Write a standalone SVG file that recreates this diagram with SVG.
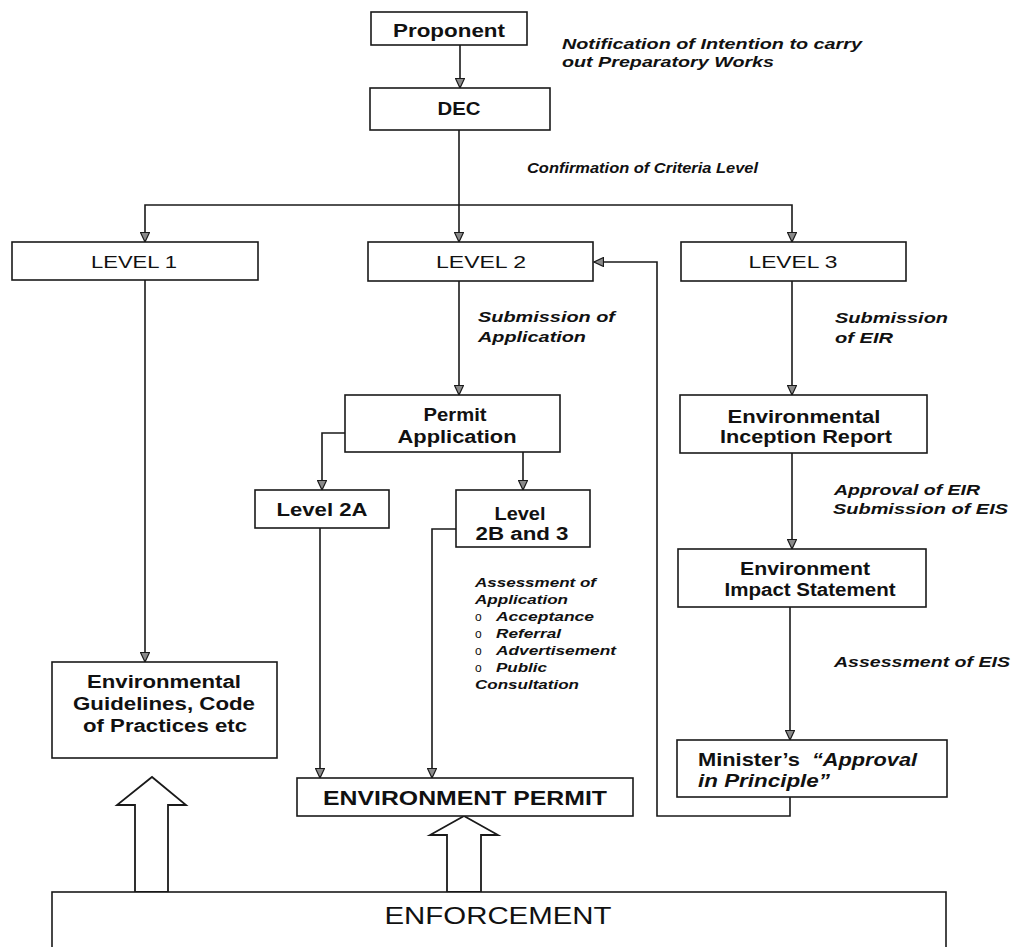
<svg xmlns="http://www.w3.org/2000/svg" width="1015" height="947" viewBox="0 0 1015 947">
<style>
.bg{fill:#ffffff}
.box{fill:#ffffff;stroke:#1a1a1a;stroke-width:1.6}
.con{fill:none;stroke:#1a1a1a;stroke-width:1.6}
.big{fill:#ffffff;stroke:#1a1a1a;stroke-width:1.8;stroke-linejoin:miter}
text{font-family:"Liberation Sans",Arial,sans-serif;fill:#111}
.t{font-size:18px;font-weight:bold;text-anchor:middle}
.r{font-size:17px;font-weight:normal;text-anchor:middle}
.lbl{font-size:15px;font-weight:bold;font-style:italic}
.sm{font-size:13px;font-weight:bold;font-style:italic}
.bul{font-size:12px;font-weight:normal}
</style>
<defs>
<marker id="ah" markerUnits="userSpaceOnUse" markerWidth="11" markerHeight="10" refX="10" refY="5" orient="auto">
<path d="M0.5,0.5 L10,5 L0.5,9.5 z" fill="#8a8a8a" stroke="#1a1a1a" stroke-width="1.2"/>
</marker>
</defs>
<rect class="bg" x="0" y="0" width="1015" height="947"/>

<g id="connectors">
<path class="con" d="M460,45 V88" marker-end="url(#ah)"/>
<path class="con" d="M459,130 V242" marker-end="url(#ah)"/>
<path class="con" d="M459,205 H145 V242" marker-end="url(#ah)"/>
<path class="con" d="M459,205 H792 V242" marker-end="url(#ah)"/>
<path class="con" d="M145,280 V662" marker-end="url(#ah)"/>
<path class="con" d="M459,281 V395" marker-end="url(#ah)"/>
<path class="con" d="M345,433 H322 V490" marker-end="url(#ah)"/>
<path class="con" d="M523,452 V490" marker-end="url(#ah)"/>
<path class="con" d="M320,528 V778" marker-end="url(#ah)"/>
<path class="con" d="M456,529 H432 V778" marker-end="url(#ah)"/>
<path class="con" d="M792,281 V395" marker-end="url(#ah)"/>
<path class="con" d="M792,453 V549" marker-end="url(#ah)"/>
<path class="con" d="M790,607 V740" marker-end="url(#ah)"/>
<path class="con" d="M790,797 V816 H657 V262 H594" marker-end="url(#ah)"/>
<polygon class="big" points="135,892 135,805 117,805 152,777 186,805 168,805 168,892"/>
<polygon class="big" points="447,892 447,835 430,835 464,816 498,835 481,835 481,892"/>
</g>

<g id="labels">
<text class="lbl" x="562" y="49" textLength="300" lengthAdjust="spacingAndGlyphs">Notification of Intention to carry</text>
<text class="lbl" x="562" y="67" textLength="212" lengthAdjust="spacingAndGlyphs">out Preparatory Works</text>
<text class="lbl" x="527" y="173" textLength="231" lengthAdjust="spacingAndGlyphs">Confirmation of Criteria Level</text>
<text class="lbl" x="478" y="322" textLength="137" lengthAdjust="spacingAndGlyphs">Submission of</text>
<text class="lbl" x="478" y="342" textLength="108" lengthAdjust="spacingAndGlyphs">Application</text>
<text class="lbl" x="835" y="323" textLength="113" lengthAdjust="spacingAndGlyphs">Submission</text>
<text class="lbl" x="835" y="343" textLength="58" lengthAdjust="spacingAndGlyphs">of EIR</text>
<text class="lbl" x="834" y="495" textLength="146" lengthAdjust="spacingAndGlyphs">Approval of EIR</text>
<text class="lbl" x="833" y="514" textLength="175" lengthAdjust="spacingAndGlyphs">Submission of EIS</text>
<text class="lbl" x="834" y="667" textLength="176" lengthAdjust="spacingAndGlyphs">Assessment of EIS</text>
<text class="sm" x="475" y="587" textLength="121" lengthAdjust="spacingAndGlyphs">Assessment of</text>
<text class="sm" x="475" y="604" textLength="93" lengthAdjust="spacingAndGlyphs">Application</text>
<text class="bul" x="475" y="621">o</text>
<text class="sm" x="496" y="621" textLength="98" lengthAdjust="spacingAndGlyphs">Acceptance</text>
<text class="bul" x="475" y="638">o</text>
<text class="sm" x="496" y="638" textLength="65" lengthAdjust="spacingAndGlyphs">Referral</text>
<text class="bul" x="475" y="655">o</text>
<text class="sm" x="496" y="655" textLength="120" lengthAdjust="spacingAndGlyphs">Advertisement</text>
<text class="bul" x="475" y="672">o</text>
<text class="sm" x="496" y="672" textLength="51" lengthAdjust="spacingAndGlyphs">Public</text>
<text class="sm" x="475" y="689" textLength="104" lengthAdjust="spacingAndGlyphs">Consultation</text>
</g>

<g id="proponent">
<rect class="box" x="371" y="12" width="156" height="33"/>
<text class="t" x="449" y="37" textLength="112" lengthAdjust="spacingAndGlyphs">Proponent</text>
</g>
<g id="dec">
<rect class="box" x="370" y="88" width="180" height="42"/>
<text class="t" x="459" y="115" textLength="43" lengthAdjust="spacingAndGlyphs">DEC</text>
</g>
<g id="level1">
<rect class="box" x="12" y="242" width="246" height="38"/>
<text class="r" x="134" y="268" textLength="86" lengthAdjust="spacingAndGlyphs">LEVEL 1</text>
</g>
<g id="level2">
<rect class="box" x="368" y="242" width="225" height="39"/>
<text class="r" x="481" y="268" textLength="90" lengthAdjust="spacingAndGlyphs">LEVEL 2</text>
</g>
<g id="level3">
<rect class="box" x="681" y="242" width="225" height="39"/>
<text class="r" x="793" y="268" textLength="89" lengthAdjust="spacingAndGlyphs">LEVEL 3</text>
</g>
<g id="permit-application">
<rect class="box" x="345" y="395" width="215" height="57"/>
<text class="t" x="455" y="421" textLength="63" lengthAdjust="spacingAndGlyphs">Permit</text>
<text class="t" x="457" y="443" textLength="119" lengthAdjust="spacingAndGlyphs">Application</text>
</g>
<g id="level2a">
<rect class="box" x="255" y="490" width="134" height="38"/>
<text class="t" x="322" y="516" textLength="91" lengthAdjust="spacingAndGlyphs">Level 2A</text>
</g>
<g id="level2b3">
<rect class="box" x="456" y="490" width="134" height="57"/>
<text class="t" x="520" y="520" textLength="51" lengthAdjust="spacingAndGlyphs">Level</text>
<text class="t" x="522" y="540" textLength="93" lengthAdjust="spacingAndGlyphs">2B and 3</text>
</g>
<g id="eir">
<rect class="box" x="680" y="395" width="247" height="58"/>
<text class="t" x="804" y="423" textLength="153" lengthAdjust="spacingAndGlyphs">Environmental</text>
<text class="t" x="806" y="443" textLength="172" lengthAdjust="spacingAndGlyphs">Inception Report</text>
</g>
<g id="eis">
<rect class="box" x="678" y="549" width="248" height="58"/>
<text class="t" x="805" y="575" textLength="130" lengthAdjust="spacingAndGlyphs">Environment</text>
<text class="t" x="810" y="596" textLength="171" lengthAdjust="spacingAndGlyphs">Impact Statement</text>
</g>
<g id="minister">
<rect class="box" x="677" y="740" width="270" height="57"/>
<text class="t" x="698" y="766" style="text-anchor:start" textLength="102" lengthAdjust="spacingAndGlyphs">Minister’s</text>
<text class="t" x="812" y="766" style="text-anchor:start;font-style:italic" textLength="105" lengthAdjust="spacingAndGlyphs">“Approval</text>
<text class="t" x="698" y="787" style="text-anchor:start;font-style:italic" textLength="132" lengthAdjust="spacingAndGlyphs">in Principle”</text>
</g>
<g id="guidelines">
<rect class="box" x="52" y="662" width="225" height="96"/>
<text class="t" x="164" y="688" textLength="154" lengthAdjust="spacingAndGlyphs">Environmental</text>
<text class="t" x="164" y="710" textLength="182" lengthAdjust="spacingAndGlyphs">Guidelines, Code</text>
<text class="t" x="165" y="732" textLength="164" lengthAdjust="spacingAndGlyphs">of Practices etc</text>
</g>
<g id="env-permit">
<rect class="box" x="297" y="778" width="336" height="38"/>
<text class="t" x="465" y="805" style="font-size:20px" textLength="284" lengthAdjust="spacingAndGlyphs">ENVIRONMENT PERMIT</text>
</g>
<g id="enforcement">
<rect class="box" x="52" y="892" width="894" height="80"/>
<text class="r" x="498" y="924" style="font-size:24px" textLength="227" lengthAdjust="spacingAndGlyphs">ENFORCEMENT</text>
</g>
</svg>
